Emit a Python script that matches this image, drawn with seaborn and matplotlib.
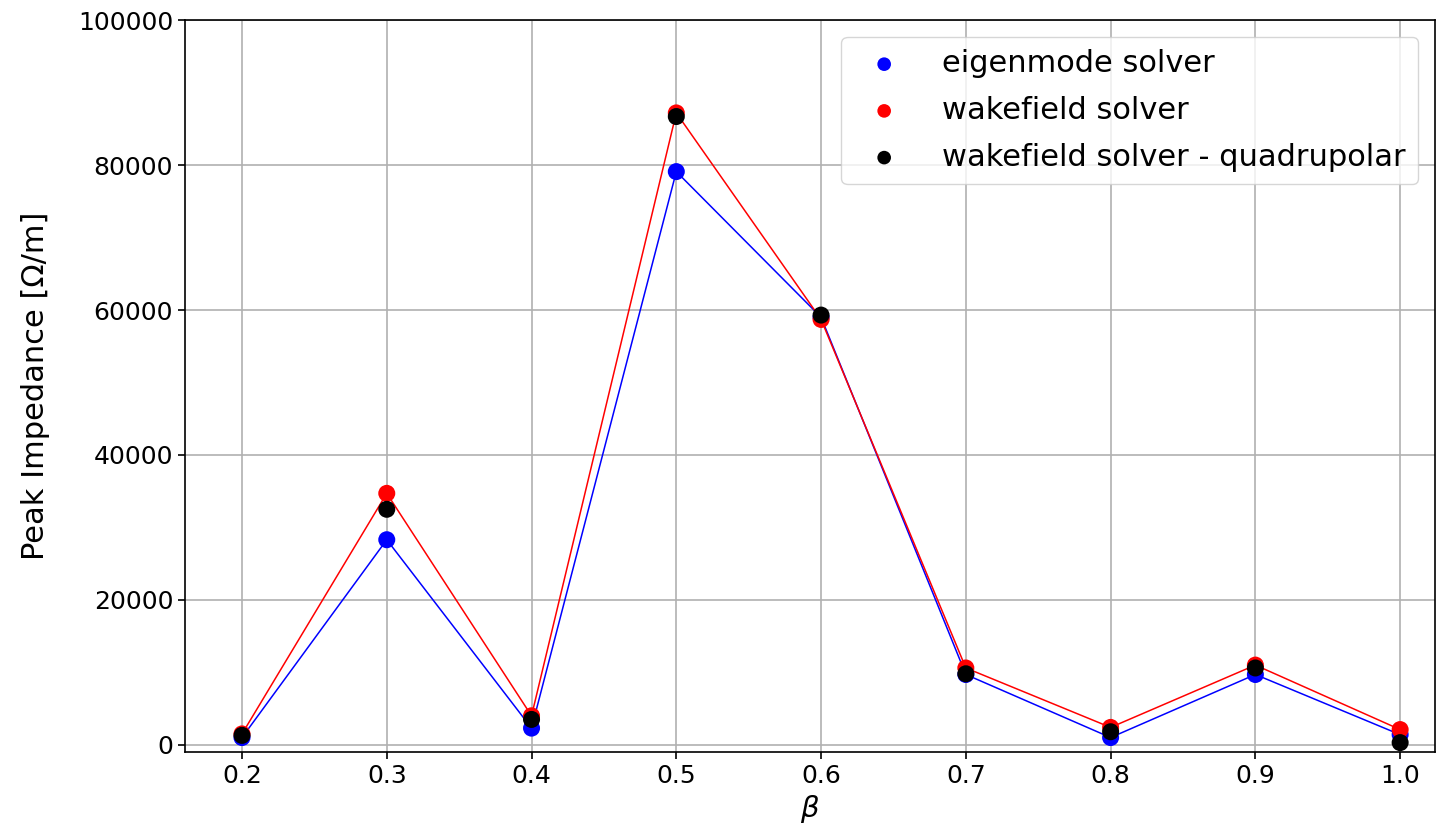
import matplotlib
matplotlib.use("Agg")
import matplotlib.pyplot as plt
import seaborn as sns
import pandas as pd

beta = [0.2, 0.3, 0.4, 0.5, 0.6, 0.7, 0.8, 0.9, 1.0]
eigenmode = [1000, 28300, 2300, 79100, 59000, 9700, 1000, 9700, 1400]
wakefield = [1500, 34700, 4000, 87200, 58700, 10600, 2400, 11000, 2100]
wakefield_quad = [1300, 32500, 3500, 86700, 59300, 9800, 1800, 10600, 300]

df = pd.DataFrame({"beta": beta, "eig": eigenmode, "wake": wakefield, "quad": wakefield_quad})

sns.set_style("white")
plt.rcParams["font.family"] = ["DejaVu Sans"]
plt.rcParams.update({"text.color": "black", "axes.labelcolor": "black",
                     "xtick.color": "black", "ytick.color": "black"})

fig = plt.figure(figsize=(14.45, 8.4), dpi=100)
ax = fig.add_axes([0.128, 0.105, 0.865, 0.871])

sns.scatterplot(data=df, x="beta", y="eig", color="blue", s=150, edgecolor="none",
                label="eigenmode solver", ax=ax, zorder=3)
sns.scatterplot(data=df, x="beta", y="wake", color="red", s=150, edgecolor="none",
                label="wakefield solver", ax=ax, zorder=3)
sns.scatterplot(data=df, x="beta", y="quad", color="black", s=150, edgecolor="none",
                label="wakefield solver - quadrupolar", ax=ax, zorder=4)
sns.lineplot(data=df, x="beta", y="eig", color="blue", linewidth=1.1, ax=ax, zorder=2, legend=False)
sns.lineplot(data=df, x="beta", y="wake", color="red", linewidth=1.1, ax=ax, zorder=2, legend=False)

ax.set_xlim(0.1606, 1.024)
ax.set_ylim(-967, 100000)
ax.set_xticks(beta)
ax.set_xticklabels([f"{b:.1f}" for b in beta])
ax.set_yticks([0, 20000, 40000, 60000, 80000, 100000])
ax.grid(True, color="#b0b0b0", linewidth=1.2)
ax.set_axisbelow(True)
for sp in ax.spines.values():
    sp.set_color("black")
    sp.set_linewidth(1.2)
ax.tick_params(axis="both", labelsize=18, length=5, width=1.2, color="black",
               labelcolor="black", left=True, bottom=True)
ax.set_xlabel(r"$\beta$", fontsize=21)
ax.set_ylabel("Peak Impedance [Ω/m]", fontsize=22)
ax.yaxis.set_label_coords(-0.108, 0.5)

leg = ax.legend(loc="upper right", fontsize=22, frameon=True, borderpad=0.4, labelspacing=0.58,
                handletextpad=0.9, markerscale=0.8, borderaxespad=0.55)
leg.get_frame().set_edgecolor("#cccccc")
for t in leg.get_texts():
    t.set_color("black")

fig.savefig("out.png", dpi=100)
